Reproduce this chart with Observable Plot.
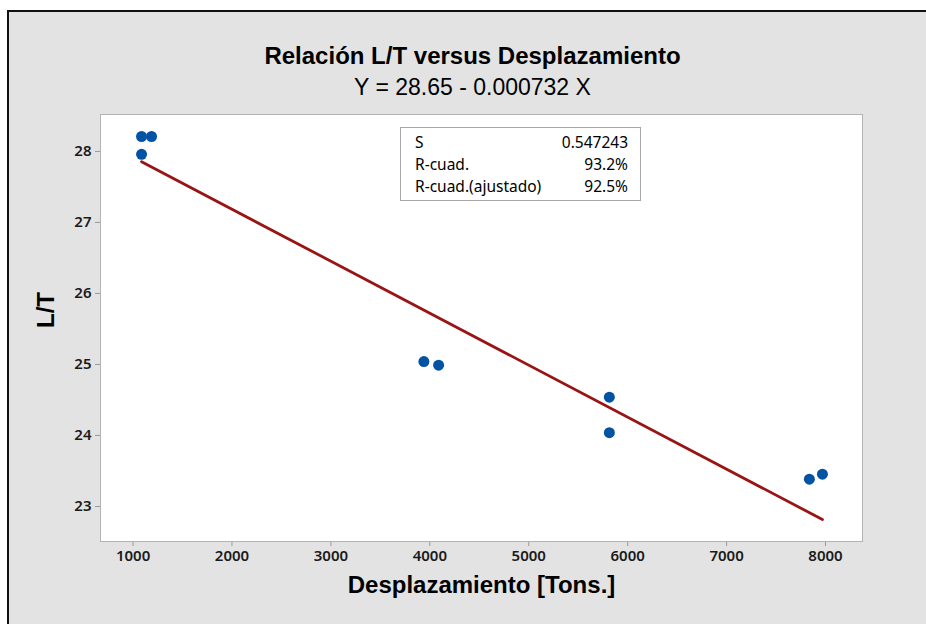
<!DOCTYPE html>
<html>
<head>
<meta charset="utf-8">
<script src="https://cdn.jsdelivr.net/npm/d3@7"></script>
<script src="https://cdn.jsdelivr.net/npm/@observablehq/plot@0.6"></script>
<style>
  html, body { margin: 0; padding: 0; background: #ffffff; overflow: hidden; width: 926px; height: 624px; }
  #page { position: relative; width: 926px; height: 624px; overflow: hidden; background: #e3e3e3; }
  #whiteTop { position: absolute; left: 0; top: 0; width: 926px; height: 10px; background: #fff; }
  #whiteLeft { position: absolute; left: 0; top: 0; width: 7px; height: 624px; background: #fff; }
  #lineTop { position: absolute; left: 7px; top: 10px; width: 919px; height: 2px; background: #111; }
  #lineLeft { position: absolute; left: 7px; top: 10px; width: 2px; height: 614px; background: #111; }
  #title { position: absolute; left: 0; width: 945px; top: 44px; text-align: center;
           font-family: "Liberation Sans", Arial, sans-serif; font-weight: bold; font-size: 24px; line-height: 24px; color: #000; }
  #subtitle { position: absolute; left: 0; width: 945px; top: 76px; text-align: center;
           font-family: "Liberation Sans", Arial, sans-serif; font-size: 23px; line-height: 23px; color: #000; }
  #chart { position: absolute; left: 0; top: 0; width: 926px; height: 624px; }
  #chart svg { display: block; }
  #stats { position: absolute; left: 400px; top: 127px; width: 239px; height: 72px;
           background: #fff; border: 1px solid #a8a8a8; font-family: "Noto Sans", sans-serif;
           font-size: 15.5px; color: #000; }
  .row { position: absolute; left: 14px; right: 12px; height: 22px; line-height: 22px; }
  .row .lab { position: absolute; left: 0; }
  .row .val { position: absolute; right: 0; }
</style>
</head>
<body>
<div id="page">
  <div id="whiteTop"></div>
  <div id="whiteLeft"></div>
  <div id="lineTop"></div>
  <div id="lineLeft"></div>
  <div id="chart"></div>
  <div id="title"></div>
  <div id="subtitle"></div>
  <div id="stats"></div>
</div>
<script>
// ---- data ----
const displacement = [1086, 1187, 1086, 3940, 4089, 5815, 5815, 7837, 7969];
const ltRatio      = [28.21, 28.21, 27.96, 25.04, 24.99, 24.54, 24.04, 23.385, 23.455];
const fitIntercept = 28.65;
const fitSlope     = -0.000732;
const xTicks = [1000, 2000, 3000, 4000, 5000, 6000, 7000, 8000];
const yTicks = [23, 24, 25, 26, 27, 28];
const statLabels = ["S", "R-cuad.", "R-cuad.(ajustado)"];
const statValues = ["0.547243", "93.2%", "92.5%"];
const titleText = "Relación L/T versus Desplazamiento";
const subtitleText = "Y = 28.65 - 0.000732 X";
const xLabel = "Desplazamiento [Tons.]";
const yLabel = "L/T";

// ---- build ----
const points = displacement.map((x, i) => ({x, y: ltRatio[i]}));
const xMin = d3.min(displacement), xMax = d3.max(displacement);
const fitLine = [xMin, xMax].map(x => ({x, y: fitIntercept + fitSlope * x}));

document.getElementById("title").textContent = titleText;
document.getElementById("subtitle").textContent = subtitleText;
const stats = document.getElementById("stats");
statLabels.forEach((l, i) => {
  const r = document.createElement("div");
  r.className = "row";
  r.style.top = (3 + i * 22) + "px";
  const a = document.createElement("span"); a.className = "lab"; a.textContent = l;
  const b = document.createElement("span"); b.className = "val"; b.textContent = statValues[i];
  r.appendChild(a); r.appendChild(b);
  stats.appendChild(r);
});

const chart = Plot.plot({
  width: 926,
  height: 624,
  marginLeft: 100,
  marginRight: 64,
  marginTop: 114,
  marginBottom: 83,
  style: {background: "transparent", fontFamily: "'Noto Sans', sans-serif", overflow: "hidden"},
  x: {domain: [671, 8374]},
  y: {domain: [22.507, 28.52]},
  marks: [
    Plot.frame({fill: "#ffffff", stroke: null}),
    Plot.axisX({ticks: xTicks, tickSize: 5, tickPadding: 4, fontSize: 15, fontWeight: 600,
                label: null, stroke: "#9a9a9a", fill: "#1a1a1a", tickFormat: d => String(d)}),
    Plot.axisY({ticks: yTicks, tickSize: 5, tickPadding: 4, fontSize: 15, fontWeight: 600,
                label: null, stroke: "#9a9a9a", fill: "#1a1a1a", tickFormat: d => String(d)}),
    Plot.line(fitLine, {x: "x", y: "y", stroke: "#991414", strokeWidth: 2.8}),
    Plot.dot(points, {x: "x", y: "y", r: 5.5, fill: "#0353a4", stroke: null}),
    Plot.frame({stroke: "#b4b4b4", strokeWidth: 1}),
    Plot.text([xLabel], {frameAnchor: "bottom", dy: 51, fontSize: 24, fontWeight: "bold",
               fontFamily: "'Liberation Sans', Arial, sans-serif", fill: "#000"}),
    Plot.text([yLabel], {frameAnchor: "left", dx: -54, rotate: -90, fontSize: 24, fontWeight: "bold",
               fontFamily: "'Liberation Sans', Arial, sans-serif", fill: "#000"})
  ]
});
document.getElementById("chart").appendChild(chart);
</script>
</body>
</html>
